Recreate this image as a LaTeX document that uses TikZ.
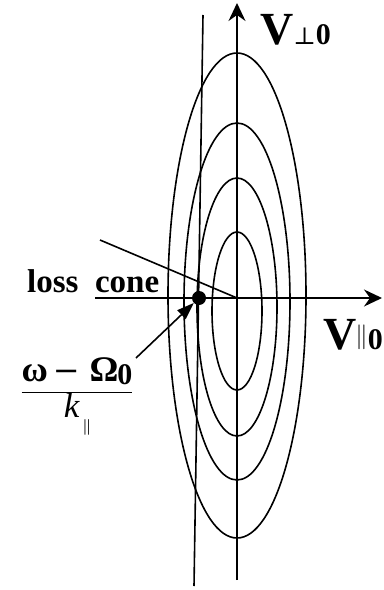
\documentclass[tikz,border=0pt]{standalone}
\usepackage{fontspec}
\setmainfont{Liberation Serif}
\newfontfamily\symfont{DejaVu Serif}
\usetikzlibrary{arrows.meta}

\begin{document}
\begin{tikzpicture}[x=1bp, y=-1bp,
    curve/.style={line width=1.6bp},
    axis/.style={line width=1.6bp, -{Stealth[length=18bp, width=17bp, inset=6bp]}},
    ptr/.style={line width=1.6bp, -{Triangle[length=17bp, width=12bp]}},
    lbl/.style={font=\fontsize{33bp}{38bp}\selectfont\bfseries, inner sep=0pt},
    vel/.style={font=\fontsize{46bp}{50bp}\selectfont\bfseries, inner sep=0pt}
]
\useasboundingbox (0,0) rectangle (383,590);
% contours of the distribution
\foreach \cy/\rx/\ry in {295.5/69/242.5, 301.5/53/178.5, 307/40/129, 311/25/79}
  \draw[curve] (237,\cy) ellipse [x radius=\rx bp, y radius=\ry bp];
\coordinate (origin) at (237,298);
\coordinate (vtop)   at (237,3);
\coordinate (vbot)   at (237,580);
\coordinate (hleft)  at (95,298);
\coordinate (hright) at (382,298);
\coordinate (rtop)   at (203,15);
\coordinate (rbot)   at (194,586);
\coordinate (cone)   at (100,240);
\coordinate (ptrstart) at (136,358);
\draw[axis] (vbot) -- (vtop);
\draw[axis] (hleft) -- (hright);
\draw[curve] (rbot) -- (rtop);
\draw[curve] (cone) -- (origin);
\node[circle, fill, inner sep=0pt, minimum size=14bp] (res) at (199,298) {};
\draw[ptr] (ptrstart) -- (res);
\node[lbl, anchor=base west] (loss) at (27,292) {loss\ \ cone};
\node[vel, anchor=base west] (vperp) at (260,45)
  {V{\symfont\mdseries\fontsize{24bp}{24bp}\selectfont ⊥}\fontsize{30bp}{30bp}\selectfont 0};
\node[vel, anchor=base west] (vpar) at (323,349)
  {V\kern-1bp\raisebox{6bp}{\fontsize{24bp}{24bp}\mdseries$\Vert$}\fontsize{30bp}{30bp}\selectfont 0};
\node[lbl, anchor=base] (frac) at (77,398)
  {$\displaystyle\frac{\mbox{\fontsize{36bp}{40bp}\selectfont ω\kern5bp{\symfont\mdseries\fontsize{32bp}{32bp}\selectfont −}\kern10bp Ω\kern-1bp\raisebox{-3bp}{\fontsize{30bp}{30bp}\selectfont 0}}}
          {\mbox{\mdseries\itshape\fontsize{35bp}{40bp}\selectfont k\kern4bp\raisebox{-14bp}{\fontsize{17bp}{17bp}\upshape\selectfont||}}}$};
\end{tikzpicture}
\end{document}
